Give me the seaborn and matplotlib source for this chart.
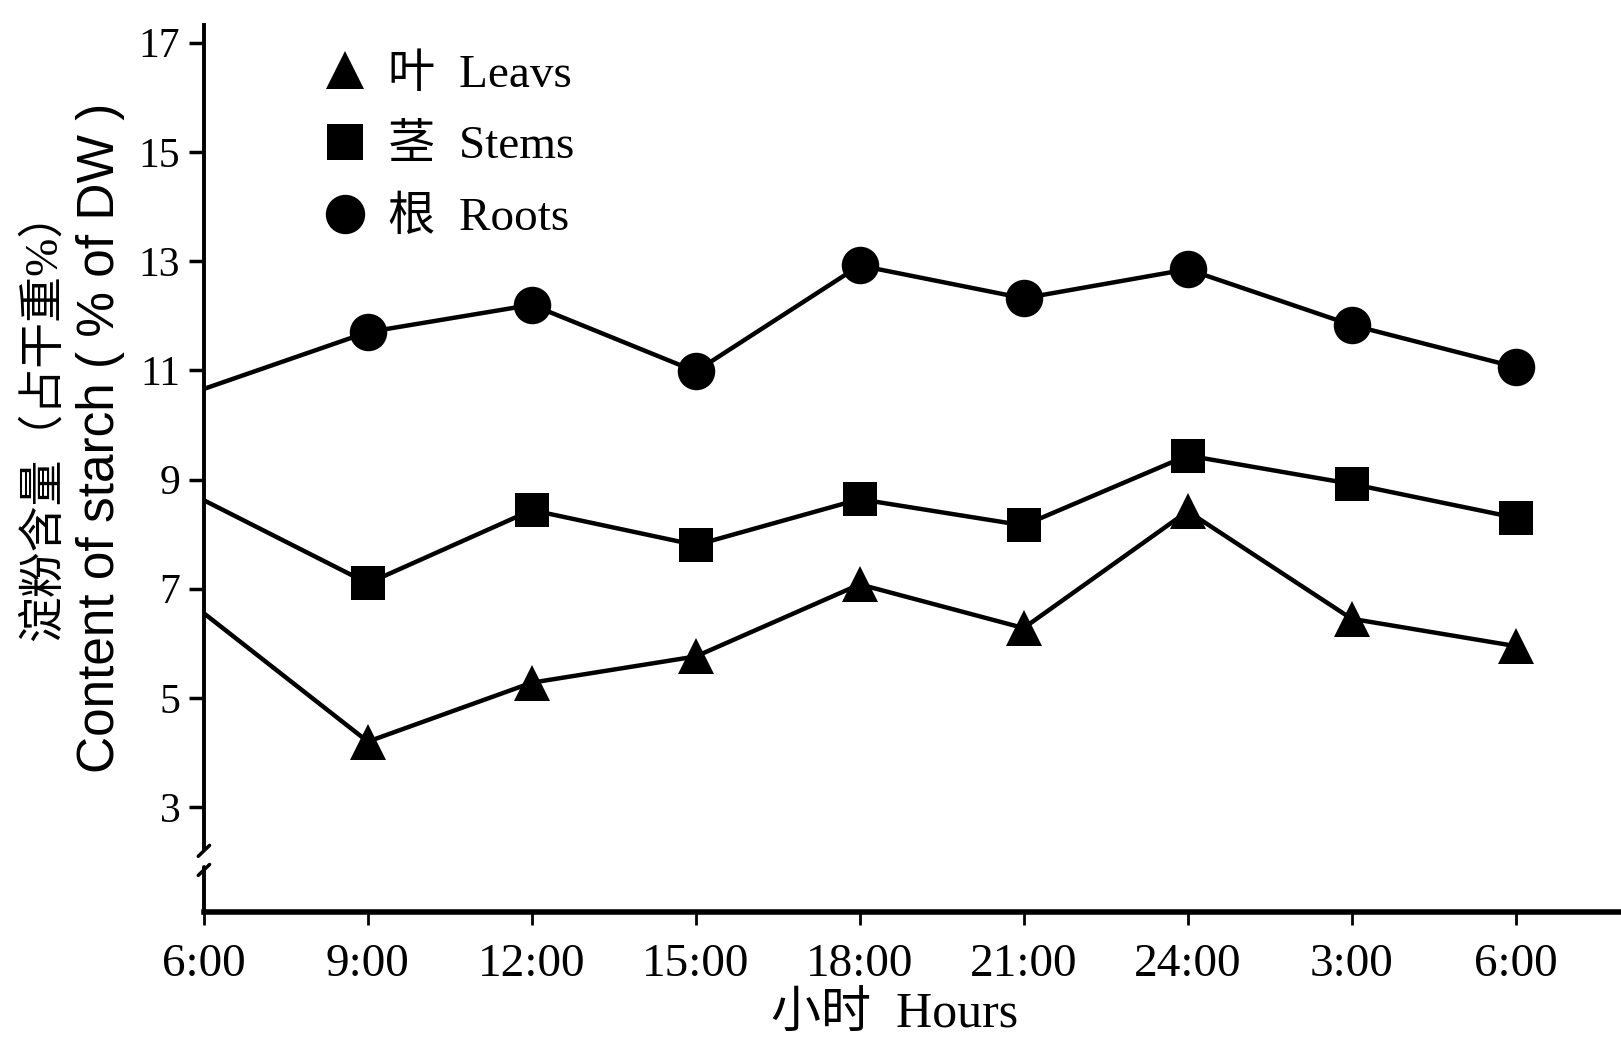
import numpy as np
import pandas as pd
import matplotlib
matplotlib.use("Agg")
import matplotlib.pyplot as plt
import matplotlib.transforms as mtransforms
from matplotlib.lines import Line2D
import seaborn as sns

# sampling times over one day (every 3 h)
hour_labels = ["6:00", "9:00", "12:00", "15:00", "18:00",
               "21:00", "24:00", "3:00", "6:00"]
hours_elapsed = np.arange(0, 27, 3)

# starch content, % of dry weight
leaves = [6.55, 4.2, 5.28, 5.76, 7.08, 6.28, 8.42, 6.45, 5.95]
stems = [8.62, 7.1, 8.44, 7.8, 8.64, 8.16, 9.44, 8.92, 8.3]
roots = [10.66, 11.7, 12.2, 10.98, 12.92, 12.32, 12.85, 11.83, 11.06]

organ_labels = ["叶  Leavs", "茎  Stems", "根  Roots"]
organ_markers = ["^", "s", "o"]
organ_sizes = [26, 25, 27]
y_ticks = [3, 5, 7, 9, 11, 13, 15, 17]

SERIF = ["Liberation Serif", "Noto Sans CJK SC", "DejaVu Sans"]
SANS = ["Liberation Sans", "Noto Sans CJK SC", "DejaVu Sans"]

sns.set_theme(style="ticks")
plt.rcParams["font.family"] = SERIF
plt.rcParams.update({
    "text.color": "black", "axes.edgecolor": "black",
    "xtick.color": "black", "ytick.color": "black",
    "axes.labelcolor": "black",
})

data_frame = pd.DataFrame({
    "hours": np.tile(hours_elapsed, 3),
    "starch": leaves + stems + roots,
    "organ": np.repeat(organ_labels, len(hours_elapsed)),
})

figure = plt.figure(figsize=(16.21, 10.38), dpi=100)
ax = figure.add_axes([0.1258, 0.1214, 0.8742, 0.8548])

for label, marker, size in zip(organ_labels, organ_markers, organ_sizes):
    sub = data_frame[data_frame["organ"] == label]
    sns.lineplot(data=sub, x="hours", y="starch", ax=ax,
                 color="black", lw=3.2, marker=marker, markersize=size,
                 markeredgewidth=0, markevery=slice(1, None),
                 legend=False)

ax.set_xlim(0, 25.93)
ax.set_ylim(1.08, 17.33)
ax.set_xticks(hours_elapsed)
ax.set_xticklabels(hour_labels)
ax.set_yticks(y_ticks)
ax.set_xlabel("")
ax.set_ylabel("")
ax.tick_params(axis="x", labelsize=34, length=9, width=2, pad=14,
               direction="out")
ax.tick_params(axis="y", labelsize=30, length=11, width=2.5, pad=6,
               direction="out")

for side in ("top", "right"):
    ax.spines[side].set_visible(False)
ax.spines["bottom"].set_linewidth(4)
ax.spines["left"].set_linewidth(2.8)

# axis break between 3 and the x axis
ax.spines["left"].set_bounds(2.25, 17.33)
trans = mtransforms.blended_transform_factory(ax.transAxes, ax.transData)
ax.plot([0, 0], [1.08, 1.9], transform=trans, color="black", lw=2.8,
        clip_on=False)
ax.plot([-0.004, 0.004], [2.1, 2.3], transform=trans, color="black",
        lw=2.5, clip_on=False)
ax.plot([-0.004, 0.004], [1.75, 1.95], transform=trans, color="black",
        lw=2.5, clip_on=False)

handles = [Line2D([], [], color="black", ls="none", marker=m,
                  markersize=s * 1.05, markeredgewidth=0)
           for m, s in zip(organ_markers, organ_sizes)]
ax.legend(handles, organ_labels, loc="upper left",
          bbox_to_anchor=(0.053, 1.015), frameon=False,
          prop={"family": SERIF, "size": 34},
          handlelength=1.0, handletextpad=0.4, labelspacing=0.6)

figure.text(0.027, 0.600, "淀粉含量（占干重%）", rotation=90,
            ha="center", va="center", fontsize=33, family=SERIF)
figure.text(0.062, 0.578, "Content of starch ( % of DW )", rotation=90,
            ha="center", va="center", fontsize=37, family=SANS)
figure.text(0.552, 0.021, "小时  Hours", ha="center", va="center",
            fontsize=36, family=SERIF)

figure.savefig("out.png", dpi=100)
